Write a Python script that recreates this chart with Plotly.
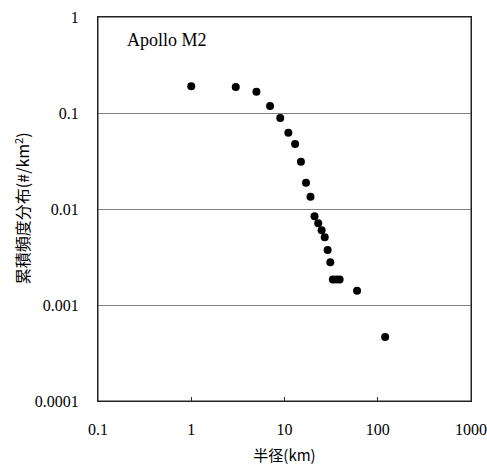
import plotly.graph_objects as go

radius_km = [1, 3, 5, 7, 9, 11, 13, 15, 17, 19, 21, 23, 25, 27, 29, 31, 33, 36, 39, 60, 120]
cum_freq = [0.19, 0.187, 0.166, 0.118, 0.0887, 0.0624, 0.0475, 0.0311, 0.0188, 0.0134,
            0.0084, 0.0071, 0.0060, 0.00507, 0.00374, 0.00279, 0.00184, 0.00184, 0.00184,
            0.00141, 0.000464]

x_ticks = [0.1, 1, 10, 100, 1000]
x_tick_labels = ["0.1", "1", "10", "100", "1000"]
y_ticks = [0.0001, 0.001, 0.01, 0.1, 1]
y_tick_labels = ["0.0001", "0.001", "0.01", "0.1", "1"]

serif = "Liberation Serif, Times New Roman, serif"
cjk = "Noto Sans CJK JP, Liberation Serif, serif"

fig = go.Figure()
fig.add_trace(go.Scatter(
    x=radius_km, y=cum_freq, mode="markers",
    marker=dict(color="black", size=8, symbol="circle"),
    showlegend=False,
))

fig.update_layout(
    template="none",
    width=487, height=469,
    margin=dict(l=98, r=16, t=17, b=68),
    paper_bgcolor="white", plot_bgcolor="white",
    font=dict(family=serif, size=16, color="black"),
    xaxis=dict(
        type="log", range=[-1, 3],
        tickvals=x_ticks, ticktext=x_tick_labels,
        ticks="inside", ticklen=4, tickcolor="#333333", tickwidth=1,
        showgrid=False, zeroline=False,
        showline=True, linecolor="#222222", linewidth=1, mirror=True,
        tickfont=dict(family=serif, size=16, color="black"),
        ticklabelstandoff=14,
        title=dict(text="半径(km)", font=dict(family=cjk, size=15, color="black"), standoff=13),
    ),
    yaxis=dict(
        type="log", range=[-4, 0],
        tickvals=y_ticks, ticktext=y_tick_labels,
        ticks="", showgrid=True, gridcolor="#808080", gridwidth=1,
        zeroline=False,
        showline=True, linecolor="#222222", linewidth=1, mirror=True,
        tickfont=dict(family=serif, size=16, color="black"),
        ticklabelstandoff=15,
    ),
    shapes=[dict(type="rect", xref="paper", yref="paper", x0=0, y0=0, x1=1, y1=1,
                 line=dict(color="#222222", width=1), layer="above")],
    annotations=[
        dict(
            text="Apollo M2", xref="paper", yref="paper", x=0.072, y=0.94,
            xanchor="left", yanchor="middle", showarrow=False,
            font=dict(family=serif, size=18, color="black"),
        ),
        dict(
            text="累積頻度分布(#/km<sup>2</sup>)", xref="paper", yref="paper",
            x=-0.204, y=0.502, xanchor="center", yanchor="middle", textangle=-90,
            showarrow=False, font=dict(family=cjk, size=16, color="black"),
        ),
    ],
)

fig.write_html("out.html", config={"displayModeBar": False},
               post_script="document.body.style.margin='0';")
